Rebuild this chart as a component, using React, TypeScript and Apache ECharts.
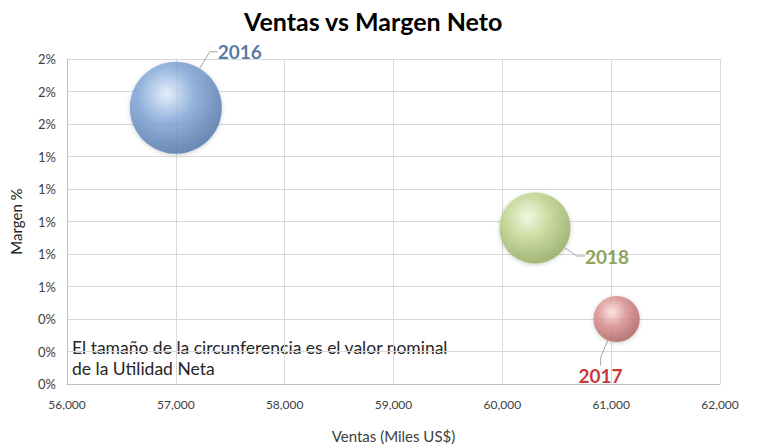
import React, { useEffect, useRef } from "react";
import * as echarts from "echarts";

const years = ["2016", "2018", "2017"];
const ventas = [57000, 60300, 61050];
const margen = [0.017, 0.0096, 0.004];
const utilidadNeta = [969, 579, 244];

const xTicks = { min: 56000, max: 62000, interval: 1000 };
const yTicks = { min: 0, max: 0.02, interval: 0.002 };

const palette = [
  { hi: "#e4f0ff", mid: "#7ea5d8", dark: "#4a6fa3", label: "#2e5590" },
  { hi: "#f6fbe0", mid: "#c2d68f", dark: "#8ea659", label: "#6f8c2e" },
  { hi: "#ffe4e4", mid: "#d9908e", dark: "#a85a58", label: "#c00000" },
];
const labelShift = [
  [64, -56],
  [72, 28],
  [-16, 56],
];

export default function App() {
  const ref = useRef<HTMLDivElement>(null);
  useEffect(() => {
    if (!ref.current) return;
    const chart = echarts.init(ref.current, null, { renderer: "svg" });
    const maxU = Math.max(...utilidadNeta);
    const data = years.map((y, i) => ({
      name: y,
      value: [ventas[i], margen[i], utilidadNeta[i]],
      itemStyle: {
        color: {
          type: "radial",
          x: 0.4,
          y: 0.35,
          r: 0.7,
          colorStops: [
            { offset: 0, color: palette[i].hi },
            { offset: 0.45, color: palette[i].mid },
            { offset: 1, color: palette[i].dark },
          ],
        },
        shadowBlur: 4,
        shadowColor: "rgba(0,0,0,0.25)",
        shadowOffsetY: 1,
      },
      label: { color: palette[i].label },
    }));
    chart.setOption({
      animation: false,
      backgroundColor: "#ffffff",
      textStyle: { fontFamily: "Lato, 'Open Sans', sans-serif" },
      title: {
        text: "Ventas vs Margen Neto",
        left: 239,
        top: 3,
        textStyle: { fontSize: 25, fontWeight: "bold", color: "#000", fontFamily: "Lato, sans-serif" },
      },
      grid: { left: 64, right: 37, top: 59, bottom: 64 },
      xAxis: {
        type: "value",
        min: xTicks.min,
        max: xTicks.max,
        interval: xTicks.interval,
        name: "Ventas (Miles US$)",
        nameLocation: "middle",
        nameGap: 44,
        nameTextStyle: { fontSize: 15, color: "#404040" },
        axisLine: { show: true, lineStyle: { color: "#bfbfbf" } },
        axisTick: { show: false },
        axisLabel: {
          fontSize: 12,
          color: "#404040",
          margin: 14,
          formatter: (v: number) => v.toLocaleString("en-US"),
        },
        splitLine: { show: true, lineStyle: { color: "#d9d9d9" } },
      },
      yAxis: {
        type: "value",
        min: yTicks.min,
        max: yTicks.max,
        interval: yTicks.interval,
        name: "Margen %",
        nameLocation: "middle",
        nameGap: 44,
        nameRotate: 90,
        nameTextStyle: { fontSize: 15, color: "#262626" },
        axisLine: { show: true, lineStyle: { color: "#bfbfbf" } },
        axisTick: { show: false },
        axisLabel: {
          fontSize: 13,
          color: "#404040",
          margin: 11,
          formatter: (v: number) => Math.round(v * 100) + "%",
        },
        splitLine: { show: true, lineStyle: { color: "#d9d9d9" } },
      },
      graphic: [
        {
          type: "text",
          left: 72,
          top: 337,
          style: {
            text: "El tamaño de la circunferencia es el valor nominal\nde la Utilidad Neta",
            fontSize: 17.5,
            lineHeight: 21,
            fill: "#262626",
            fontFamily: "Lato, sans-serif",
          },
        },
      ],
      series: [
        {
          type: "scatter",
          data,
          symbolSize: (val: number[]) => 92 * Math.sqrt(val[2] / maxU),
          label: {
            show: true,
            position: "inside",
            formatter: "{b}",
            fontSize: 19,
            fontWeight: "bold",
            fontFamily: "Lato, sans-serif",
          },
          labelLayout: (p: any) => ({ dx: labelShift[p.dataIndex][0], dy: labelShift[p.dataIndex][1] }),
          labelLine: { show: true, length2: 8, lineStyle: { color: "#a6a6a6", width: 1 } },
        },
      ],
    });
    return () => chart.dispose();
  }, []);
  return <div ref={ref} style={{ position: "fixed", left: 0, top: 0, width: 757, height: 448 }} />;
}
